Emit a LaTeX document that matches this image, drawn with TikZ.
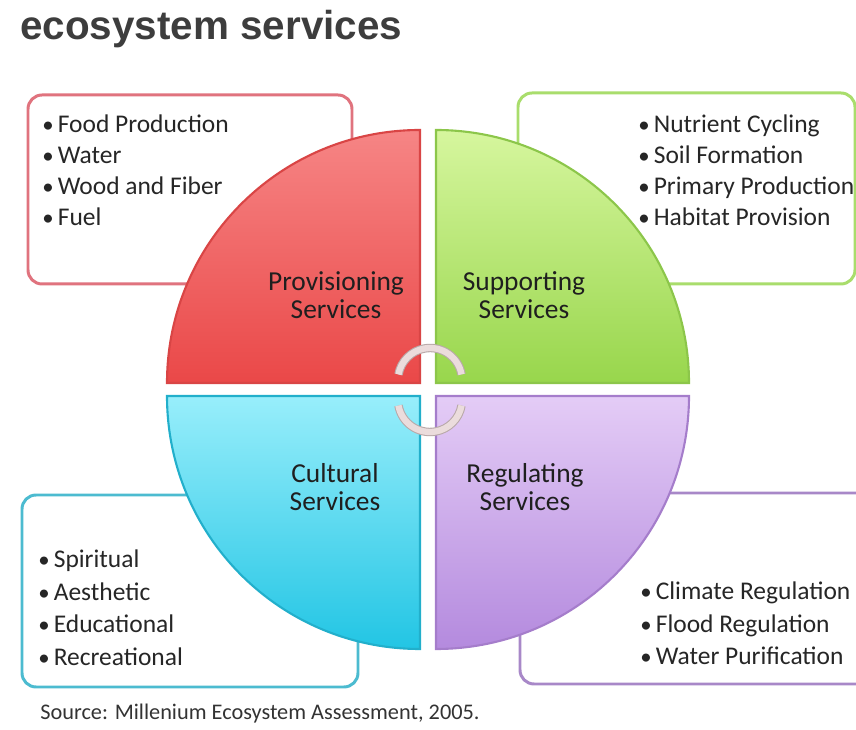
\documentclass[tikz,border=0pt]{standalone}
\usepackage{fontspec}
\setmainfont{Carlito}
\newfontfamily\headfont{Liberation Sans}

\definecolor{provline}{HTML}{E0737E}
\definecolor{suppline}{HTML}{A9DD6C}
\definecolor{cultline}{HTML}{4CBBD0}
\definecolor{reguline}{HTML}{A888C8}
\definecolor{provtop}{HTML}{F68585}
\definecolor{provbot}{HTML}{EA4848}
\definecolor{provedge}{HTML}{D94545}
\definecolor{supptop}{HTML}{D6F69E}
\definecolor{suppbot}{HTML}{98D64C}
\definecolor{suppedge}{HTML}{8CC64A}
\definecolor{culttop}{HTML}{98EEFB}
\definecolor{cultbot}{HTML}{22C5E4}
\definecolor{cultedge}{HTML}{22AFCB}
\definecolor{regutop}{HTML}{E4CCF6}
\definecolor{regubot}{HTML}{B48ADE}
\definecolor{reguedge}{HTML}{A57DCB}
\definecolor{ringfill}{HTML}{EBDCDC}
\definecolor{ringedge}{HTML}{B9A9A9}

\newcommand{\bul}[1]{\makebox[8.8pt][l]{\raisebox{0.2pt}{\fontsize{13}{13}\selectfont•}}#1}

\tikzset{
  listbox/.style={rounded corners=8pt, line width=1.7pt, fill=white},
  quad/.style={line width=1.2pt},
  itemtext/.style={font=\fontsize{14.5}{17}\selectfont, text=black!85, anchor=base west, inner sep=0pt},
  quadlabel/.style={font=\fontsize{15.6}{15.9}\selectfont, text=black!88, align=center, inner sep=0pt},
  ringarc/.style={draw=ringedge, line width=0.6pt, double=ringfill, double distance=3.6pt}
}

\begin{document}
\begin{tikzpicture}[x=0.02cm,y=0.02cm]
  \useasboundingbox (0,0) rectangle (856,730);
  \clip (0,0) rectangle (856,730);
  % title
  \node[font=\headfont\bfseries\fontsize{23}{24}\selectfont, text=black!76, anchor=base west, inner sep=0pt] (title) at (20,690) {ecosystem services};
  % list boxes
  \draw[listbox, draw=provline] (28,446) rectangle (352,635);
  \draw[listbox, draw=suppline] (518,446) rectangle (855,637);
  \draw[listbox, draw=cultline] (22,43) rectangle (358,235);
  \draw[listbox, draw=reguline] (520,46) rectangle (880,237);
  % quadrants
  \draw[quad, draw=provedge, top color=provtop, bottom color=provbot] (420,347) -- (167,347) arc[start angle=180, end angle=90, radius=253] -- cycle;
  \draw[quad, draw=suppedge, top color=supptop, bottom color=suppbot] (436,347) -- (436,600) arc[start angle=90, end angle=0, radius=253] -- cycle;
  \draw[quad, draw=cultedge, top color=culttop, bottom color=cultbot] (420,334) -- (420,81) arc[start angle=270, end angle=180, radius=253] -- cycle;
  \draw[quad, draw=reguedge, top color=regutop, bottom color=regubot] (436,334) -- (689,334) arc[start angle=0, end angle=-90, radius=253] -- cycle;
  % cycle arcs
  \coordinate (hubtop) at (430,350);
  \coordinate (hubbot) at (430,330);
  \draw[ringarc] ([shift={(10:32)}]hubtop) arc[start angle=10, end angle=170, radius=32];
  \draw[ringarc] ([shift={(190:32)}]hubbot) arc[start angle=190, end angle=350, radius=32];
  % quadrant labels
  \node[quadlabel] (prov) at (336,435) {Provisioning\\Services};
  \node[quadlabel] (supp) at (524,435) {Supporting\\Services};
  \node[quadlabel] (cult) at (335,243) {Cultural\\Services};
  \node[quadlabel] (regu) at (525,243) {Regulating\\Services};
  % lists
  \foreach \t [count=\i] in {Food Production, Water, Wood and Fiber, Fuel}
    \node[itemtext] (prov\i) at (42,{597-31*(\i-1)}) {\bul{\t}};
  \foreach \t [count=\i] in {Nutrient Cycling, Soil Formation, Primary Production, Habitat Provision}
    \node[itemtext] (supp\i) at (638,{597-31*(\i-1)}) {\bul{\t}};
  \foreach \t [count=\i] in {Spiritual, Aesthetic, Educational, Recreational}
    \node[itemtext] (cult\i) at (38,{162-32.5*(\i-1)}) {\bul{\t}};
  \foreach \t [count=\i] in {Climate Regulation, Flood Regulation, Water Purification}
    \node[itemtext] (regu\i) at (640,{130-32.5*(\i-1)}) {\bul{\t}};
  % source
  \node[font=\fontsize{12.7}{14}\selectfont, text=black!80, anchor=base west, inner sep=0pt] (source) at (40,10) {Source: Millenium Ecosystem Assessment, 2005.};
\end{tikzpicture}
\end{document}
